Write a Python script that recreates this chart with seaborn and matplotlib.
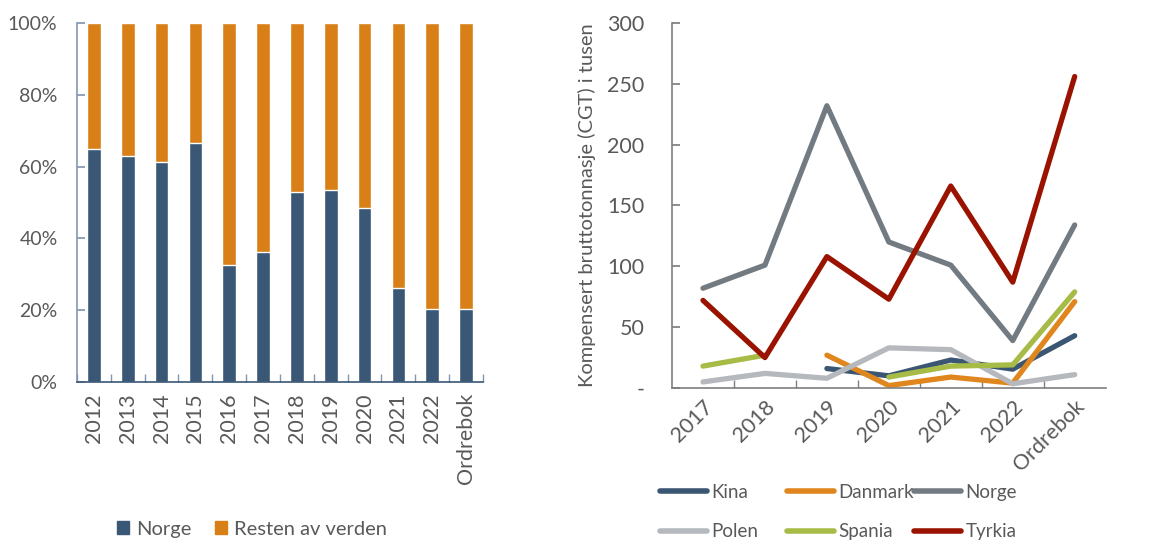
import numpy as np
import pandas as pd
import seaborn as sns
import matplotlib.pyplot as plt
from matplotlib.ticker import FixedLocator, PercentFormatter
from matplotlib.lines import Line2D
from matplotlib.patches import Patch


# Data - left chart (share of orders, %)

years_left = ["2012", "2013", "2014", "2015", "2016", "2017", "2018",
              "2019", "2020", "2021", "2022", "Ordrebok"]
norge_share = [65.0, 62.9, 61.4, 66.7, 32.6, 36.3, 52.9, 53.4, 48.6, 26.3, 20.2, 20.4]
rest_share = [100 - v for v in norge_share]

# Data - right chart (CGT, thousands)

years_right = ["2017", "2018", "2019", "2020", "2021", "2022", "Ordrebok"]
kina = [np.nan, np.nan, 16, 10, 23, 15.5, 43]
danmark = [np.nan, np.nan, 27, 2, 9, 4, 71]
norge = [82, 101, 232, 120, 101, 39, 134]
polen = [5, 12, 8, 33, 31.5, 3.5, 11]
spania = [18, 27, np.nan, 9, 18, 19, 79]
tyrkia = [72, 25, 108, 73, 166, 87, 256]

countries = ["Kina", "Danmark", "Norge", "Polen", "Spania", "Tyrkia"]
colors = ["#3B5673", "#E0861E", "#737B82", "#B5B9BD", "#A7BB47", "#9A1300"]

sns.set_theme(style="white")
plt.rcParams["font.family"] = ["Lato", "DejaVu Sans"]
text_col = "#595959"
tick_fs = 15.5

fig = plt.figure(figsize=(11.72, 5.41), dpi=100)
ax1 = fig.add_axes([0.0657, 0.2939, 0.3464, 0.6636])
ax2 = fig.add_axes([0.5734, 0.2828, 0.3700, 0.6747])


# Left: stacked bars

left_df = pd.DataFrame({"year": years_left, "norge": norge_share, "rest": rest_share})
left_df["total"] = left_df["norge"] + left_df["rest"]

sns.barplot(data=left_df, x="year", y="total", color="#D87F17", width=0.4,
            saturation=1, ax=ax1)
sns.barplot(data=left_df, x="year", y="norge", color="#3A5775", width=0.4,
            saturation=1, ax=ax1)

ax1.set_ylim(0, 100)
ax1.set_xlim(-0.5, len(years_left) - 0.5)
ax1.yaxis.set_major_locator(FixedLocator([0, 20, 40, 60, 80, 100]))
ax1.yaxis.set_major_formatter(PercentFormatter(decimals=0))
ax1.set_xlabel("")
ax1.set_ylabel("")
ax1.xaxis.set_minor_locator(FixedLocator(np.arange(-0.5, len(years_left), 1)))
ax1.tick_params(axis="x", which="major", length=0, rotation=90, labelsize=tick_fs,
                labelcolor=text_col, pad=8)
ax1.tick_params(axis="x", which="minor", length=6, direction="in",
                color="#8497B0", bottom=True)
ax1.tick_params(axis="y", length=6, direction="in", color="#8497B0", left=True,
                labelsize=14, labelcolor=text_col, pad=14)
for s in ["top", "right"]:
    ax1.spines[s].set_visible(False)
for s in ["left", "bottom"]:
    ax1.spines[s].set_color("#8497B0")
    ax1.spines[s].set_linewidth(1.2)
ax1.spines["bottom"].set_color("#3A5775")

handles1 = [Patch(color="#3A5775", label="Norge"),
            Patch(color="#D87F17", label="Resten av verden")]
fig.legend(handles=handles1, loc="center left", bbox_to_anchor=(0.1, 0.022),
           ncol=2, frameon=False, fontsize=14.5, handlelength=0.6,
           handleheight=0.6, handletextpad=0.35, columnspacing=1.15,
           labelcolor=text_col, borderpad=0, borderaxespad=0)


# Right: lines

series = dict(zip(countries, [kina, danmark, norge, polen, spania, tyrkia]))
rows = []
for c in countries:
    seg = 0
    for i, v in enumerate(series[c]):
        if np.isnan(v):
            seg += 1
            continue
        rows.append({"pos": i, "value": v, "land": c, "seg": seg})
right_df = pd.DataFrame(rows)

sns.lineplot(data=right_df, x="pos", y="value", hue="land", hue_order=countries,
             palette=colors, units="seg", estimator=None, linewidth=3.8,
             solid_capstyle="round", legend=False, ax=ax2)

ax2.set_xlim(-0.5, len(years_right) - 0.5)
ax2.set_ylim(0, 300)
ax2.set_xticks(range(len(years_right)))
ax2.set_xticklabels(years_right)
ax2.set_yticks([0, 50, 100, 150, 200, 250, 300])
ax2.set_yticklabels(["-", "50", "100", "150", "200", "250", "300"])
ax2.set_xlabel("")
ax2.set_ylabel("Kompensert bruttotonnasje (CGT) i tusen", fontsize=14.5,
               color=text_col, labelpad=8)
ax2.xaxis.set_minor_locator(FixedLocator(np.arange(0.5, len(years_right) - 1, 1)))
ax2.tick_params(axis="x", which="major", length=0, labelsize=tick_fs,
                labelcolor=text_col, pad=6)
for lab in ax2.get_xticklabels():
    lab.set_rotation(45)
    lab.set_ha("right")
    lab.set_rotation_mode("anchor")
ax2.tick_params(axis="x", which="minor", length=6, direction="in",
                color="#7F7F7F", bottom=True)
ax2.tick_params(axis="y", length=6, direction="in", color="#7F7F7F", left=True,
                labelsize=tick_fs, labelcolor=text_col, pad=20)
for s in ["top", "right"]:
    ax2.spines[s].set_visible(False)
for s in ["left", "bottom"]:
    ax2.spines[s].set_color("#7F7F7F")
    ax2.spines[s].set_linewidth(1.2)

# legend laid out in fixed columns like the original
col_x = [660, 787, 914]
for k in range(3):
    pair = [k, k + 3]
    hs = [Line2D([0], [0], color=colors[j], lw=4, solid_capstyle="round",
                 label=countries[j]) for j in pair]
    fig.legend(handles=hs, loc="center left",
               bbox_to_anchor=(col_x[k] / 1172, 1 - 512 / 541),
               ncol=1, frameon=False, fontsize=13.5, handlelength=2.5,
               handletextpad=0.25, labelspacing=1.2, labelcolor=text_col,
               borderpad=0, borderaxespad=0)

fig.savefig("out.png", dpi=100)
